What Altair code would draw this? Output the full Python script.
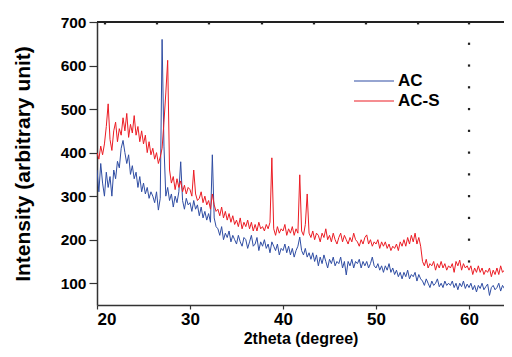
import altair as alt
import pandas as pd

# 2theta sampling grid (degrees)
THETA_START = 20.0
THETA_STEP = 0.2

SERIES = ["AC", "AC-S"]
COLORS = ["#2f4da3", "#ec1c24"]

AC = [
    360, 310, 375, 330, 300,
    355, 320, 345, 300, 360,
    340, 380, 365, 410, 428,
    400, 375, 395, 350, 370,
    340, 355, 320, 345, 310,
    330, 305, 320, 295, 310,
    300, 285, 310, 268, 295,
    660, 415, 300, 320, 290,
    305, 275, 300, 285, 310,
    379, 290, 270, 295, 280,
    285, 265, 290, 270, 280,
    255, 275, 250, 265, 245,
    260, 240, 395, 250, 230,
    225, 210, 230, 200, 215,
    205, 220, 195, 210, 200,
    190, 210, 195, 185, 205,
    200, 180, 195, 210, 185,
    190, 205, 175, 195, 185,
    200, 180, 190, 170, 195,
    185, 175, 190, 165, 180,
    175, 190, 170, 185, 165,
    180, 160, 175, 185, 206,
    175, 165, 180, 160, 170,
    155, 170, 150, 165, 140,
    160, 145, 165, 150, 135,
    155, 145, 160, 140, 150,
    145, 160, 135, 150, 119,
    150, 140, 155, 135, 150,
    145, 155, 135, 150, 140,
    150, 135, 145, 160, 140,
    135, 145, 130, 140, 125,
    140, 130, 145, 125, 135,
    120, 130, 115, 125, 110,
    125, 115, 130, 110, 120,
    115, 125, 105, 120, 110,
    105, 95, 110, 100, 90,
    105, 95, 100, 110, 92,
    100, 90, 105, 95, 100,
    95, 105, 90, 100, 85,
    100, 92, 105, 88, 98,
    90, 100, 85, 95, 80,
    95, 88, 100, 85, 92,
    98, 72, 90, 95, 85,
    90, 100, 82, 95, 88,
    95, 85, 92, 100,
]

AC_S = [
    400, 385, 415, 395, 420,
    460, 512, 430, 405, 450,
    470, 425, 455, 440, 480,
    450, 490, 435, 465, 445,
    485, 440, 460, 425, 450,
    420, 440, 400, 425, 395,
    410, 385, 400, 375, 390,
    410, 470, 537, 612, 360,
    330, 345, 315, 340, 320,
    335, 310, 325, 305, 320,
    315, 300, 360, 305, 290,
    295, 310, 285, 300, 280,
    290, 270, 305, 280, 265,
    270, 255, 275, 250, 265,
    245, 260, 240, 255, 235,
    245, 230, 250, 225, 240,
    230, 245, 225, 240, 220,
    235, 220, 240, 225, 230,
    220, 235, 225, 240, 388,
    225, 210, 230, 215, 225,
    220, 235, 210, 225, 215,
    230, 210, 225, 215, 349,
    220, 210, 235, 305, 215,
    205, 220, 200, 215, 210,
    195, 215, 205, 225, 200,
    210, 195, 215, 200, 190,
    205, 215, 195, 210, 200,
    190, 205, 195, 215, 200,
    195, 185, 200, 190, 205,
    211, 190, 200, 185, 195,
    190, 200, 180, 195, 185,
    195, 180, 190, 175, 185,
    180, 190, 175, 195, 185,
    200, 185, 205, 190, 210,
    195, 215, 190, 205, 185,
    150, 140, 155, 135, 145,
    140, 150, 130, 145, 135,
    150, 135, 145, 130, 140,
    135, 145, 125, 150, 140,
    153, 130, 145, 135, 140,
    130, 140, 120, 135, 125,
    140, 125, 135, 120, 130,
    125, 135, 115, 130, 120,
    135, 120, 140, 125, 130,
    145, 130, 172, 125,
]

X_DOMAIN = [20, 63.76]
Y_DOMAIN = [50, 700]
X_TICKS = [20, 30, 40, 50, 60]
Y_TICKS = [100, 200, 300, 400, 500, 600, 700]
TOP_TICKS = [20.86, 26.45, 32.04, 37.74, 43.33, 48.92, 54.52, 60]
TOP_TICK_LEVEL = 697
RIGHT_FRAME_X = 60
RIGHT_DOTS = [150, 200, 250, 300, 350, 400, 450, 500, 550, 600, 650]

FONT = "Liberation Sans"
W, H = 407, 283

rows = []
for name, vals in zip(SERIES, [AC, AC_S]):
    for i, v in enumerate(vals):
        rows.append({"theta": round(THETA_START + THETA_STEP * i, 2),
                     "intensity": v, "sample": name, "idx": i})
df = pd.DataFrame(rows)

dots = pd.DataFrame({
    "theta": [RIGHT_FRAME_X] * len(RIGHT_DOTS) + TOP_TICKS,
    "intensity": RIGHT_DOTS + [TOP_TICK_LEVEL] * len(TOP_TICKS),
})
top_frame = pd.DataFrame({"theta": X_DOMAIN, "intensity": [Y_DOMAIN[1], Y_DOMAIN[1]]})

xscale = alt.Scale(domain=X_DOMAIN, nice=False, zero=False)
yscale = alt.Scale(domain=Y_DOMAIN, nice=False, zero=False)

X_AXIS = alt.Axis(values=X_TICKS, format="d", title="2theta (degree)", orient="bottom",
                  grid=False, tickSize=4, labelPadding=2, labelFontSize=17,
                  titleFontSize=16, titlePadding=3)
Y_AXIS = alt.Axis(values=Y_TICKS, format="d", title="Intensity (arbitrary unit)",
                  orient="left", grid=False, tickSize=8, labelPadding=3,
                  labelFontSize=15.5, titlePadding=27, titleFontSize=21)

lines = alt.Chart(df).mark_line(strokeWidth=1, clip=True).encode(
    x=alt.X("theta:Q", scale=xscale, axis=X_AXIS),
    y=alt.Y("intensity:Q", scale=yscale, axis=Y_AXIS),
    color=alt.Color("sample:N", scale=alt.Scale(domain=SERIES, range=COLORS),
                    legend=alt.Legend(orient="none", legendX=256, legendY=49, title=None,
                                      symbolType="stroke", symbolSize=1600,
                                      symbolStrokeWidth=1.2, labelFontSize=17,
                                      labelFontWeight="bold", labelFont=FONT,
                                      labelColor="black", labelOffset=3,
                                      clipHeight=20, rowPadding=0)),
    detail="sample:N",
    order="idx:Q",
)

frame_dots = alt.Chart(dots).mark_square(size=5, color="#222222", opacity=1).encode(
    x=alt.X("theta:Q", scale=xscale, axis=X_AXIS),
    y=alt.Y("intensity:Q", scale=yscale, axis=Y_AXIS),
)

frame_top = alt.Chart(top_frame).mark_line(color="#222222", strokeWidth=2, opacity=1).encode(
    x=alt.X("theta:Q", scale=xscale, axis=X_AXIS),
    y=alt.Y("intensity:Q", scale=yscale, axis=Y_AXIS),
)

chart = alt.layer(lines, frame_dots, frame_top).properties(
    width=W, height=H,
    autosize=alt.AutoSizeParams(type="none"),
    padding={"left": 89, "top": 14, "right": 0, "bottom": 44},
).configure_view(stroke=None).configure_axis(
    labelFont=FONT, titleFont=FONT, labelFontWeight="bold", titleFontWeight="bold",
    labelColor="black", titleColor="black",
    domainColor="#333333", tickColor="#333333", domainWidth=1.5, tickWidth=1.2,
)

chart.save("out.html", embed_options={"renderer": "svg", "actions": False})
